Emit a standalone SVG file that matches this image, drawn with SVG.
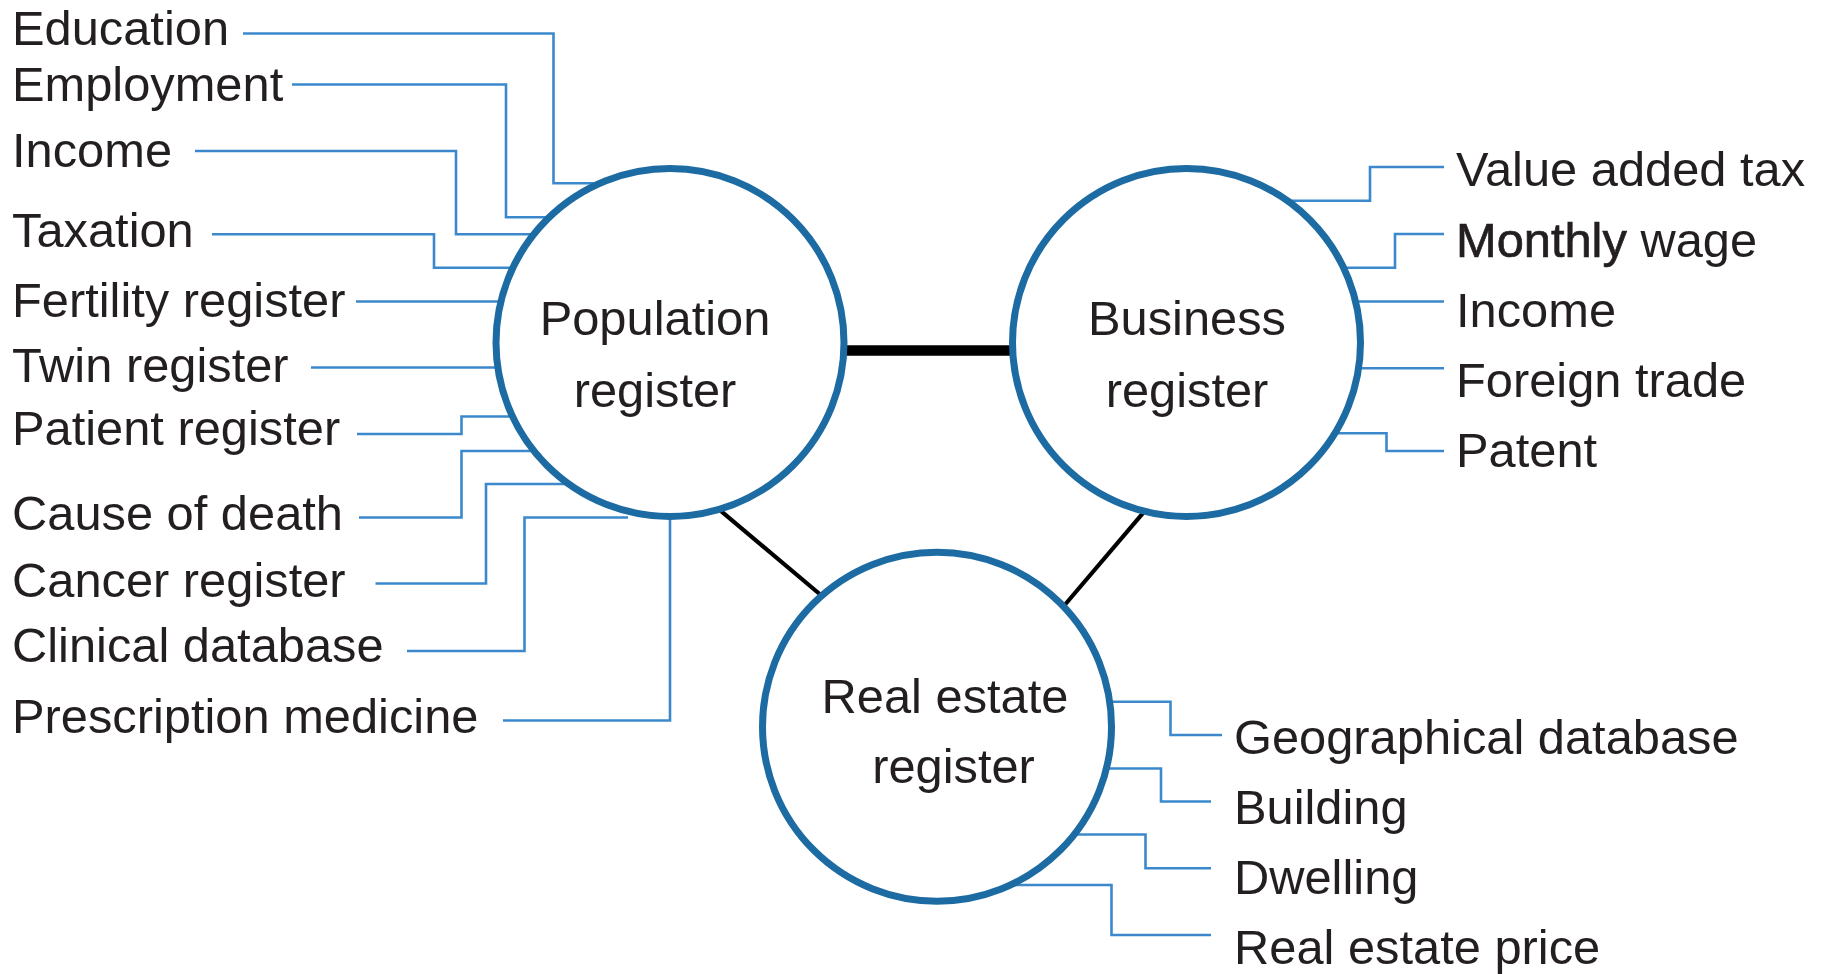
<svg xmlns="http://www.w3.org/2000/svg" width="1829" height="974" viewBox="0 0 1829 974">
  <style>
    .lbl { font-family: "Liberation Sans", Arial, sans-serif; font-size: 48.8px; fill: #231f20; }
    .mid { text-anchor: middle; }
    .feed { fill: none; stroke: #3b89cc; stroke-width: 2.6; }
    .link { fill: none; stroke: #000; }
    .reg { fill: #fff; stroke: #1d6ba3; stroke-width: 7; }
  </style>
  <rect width="1829" height="974" fill="#fff"/>

  <!-- connectors: data sources feeding each register, and the links between registers -->
  <g id="connectors">
    <!-- population register sources -->
    <path class="feed" d="M243 33.5 H553.5 V183.3 H616"/>
    <path class="feed" d="M292 84.5 H506 V217.3 H558"/>
    <path class="feed" d="M195 151 H456 V234.3 H541"/>
    <path class="feed" d="M212 234.3 H434 V267.7 H520"/>
    <path class="feed" d="M356 301.5 H507"/>
    <path class="feed" d="M311 367.5 H504"/>
    <path class="feed" d="M357 434 H461.5 V416.5 H519"/>
    <path class="feed" d="M359 517.5 H461.5 V451 H541"/>
    <path class="feed" d="M375.5 583.5 H486 V484 H579"/>
    <path class="feed" d="M407 651 H524.5 V517.5 H628"/>
    <path class="feed" d="M503 720.5 H670 V505"/>
    <!-- business register sources -->
    <path class="feed" d="M1444 167 H1370 V200.7 H1276"/>
    <path class="feed" d="M1444 234 H1395 V267.7 H1337"/>
    <path class="feed" d="M1444 301.5 H1349"/>
    <path class="feed" d="M1444 368.3 H1352"/>
    <path class="feed" d="M1444 451 H1386.5 V433.3 H1328"/>
    <!-- real estate register sources -->
    <path class="feed" d="M1222 735 H1170.5 V701.7 H1103"/>
    <path class="feed" d="M1211 801.5 H1161 V768.5 H1099"/>
    <path class="feed" d="M1211 868.3 H1145.5 V834.5 H1065"/>
    <path class="feed" d="M1211 935 H1111.5 V885 H992"/>
    <!-- register links -->
    <path class="link" stroke-width="10.5" d="M840 350.5 H1015"/>
    <path class="link" stroke-width="4.2" d="M715 506 L822 596"/>
    <path class="link" stroke-width="4.2" d="M1149 506 L1063 607"/>
  </g>

  <g id="population-register">
    <circle class="reg" cx="670" cy="342.5" r="174"/>
    <text class="lbl mid" x="655" y="335">Population</text>
    <text class="lbl mid" x="655" y="406.7">register</text>
  </g>
  <g id="business-register">
    <circle class="reg" cx="1186.5" cy="342.5" r="174"/>
    <text class="lbl mid" x="1187" y="335">Business</text>
    <text class="lbl mid" x="1187" y="406.7">register</text>
  </g>
  <g id="real-estate-register">
    <circle class="reg" cx="937" cy="726.7" r="174.5"/>
    <text class="lbl mid" x="945" y="713.3">Real estate</text>
    <text class="lbl mid" x="953.5" y="783.3">register</text>
  </g>

  <g id="population-sources">
    <text class="lbl" x="12" y="45">Education</text>
    <text class="lbl" x="12" y="101">Employment</text>
    <text class="lbl" x="12" y="166.7">Income</text>
    <text class="lbl" x="12" y="247.3">Taxation</text>
    <text class="lbl" x="12" y="317.3">Fertility register</text>
    <text class="lbl" x="12" y="381.7">Twin register</text>
    <text class="lbl" x="12" y="445">Patient register</text>
    <text class="lbl" x="12" y="530">Cause of death</text>
    <text class="lbl" x="12" y="596.7">Cancer register</text>
    <text class="lbl" x="12" y="661.7">Clinical database</text>
    <text class="lbl" x="12" y="733">Prescription medicine</text>
  </g>
  <g id="business-sources">
    <text class="lbl" x="1456" y="186">Value added tax</text>
    <text class="lbl" x="1456" y="257"><tspan stroke="#231f20" stroke-width="0.7">Monthly</tspan> wage</text>
    <text class="lbl" x="1456" y="327">Income</text>
    <text class="lbl" x="1456" y="397">Foreign trade</text>
    <text class="lbl" x="1456" y="467">Patent</text>
  </g>
  <g id="real-estate-sources">
    <text class="lbl" x="1234" y="753.5">Geographical database</text>
    <text class="lbl" x="1234" y="823.5">Building</text>
    <text class="lbl" x="1234" y="893.5">Dwelling</text>
    <text class="lbl" x="1234" y="963.5">Real estate price</text>
  </g>
</svg>
